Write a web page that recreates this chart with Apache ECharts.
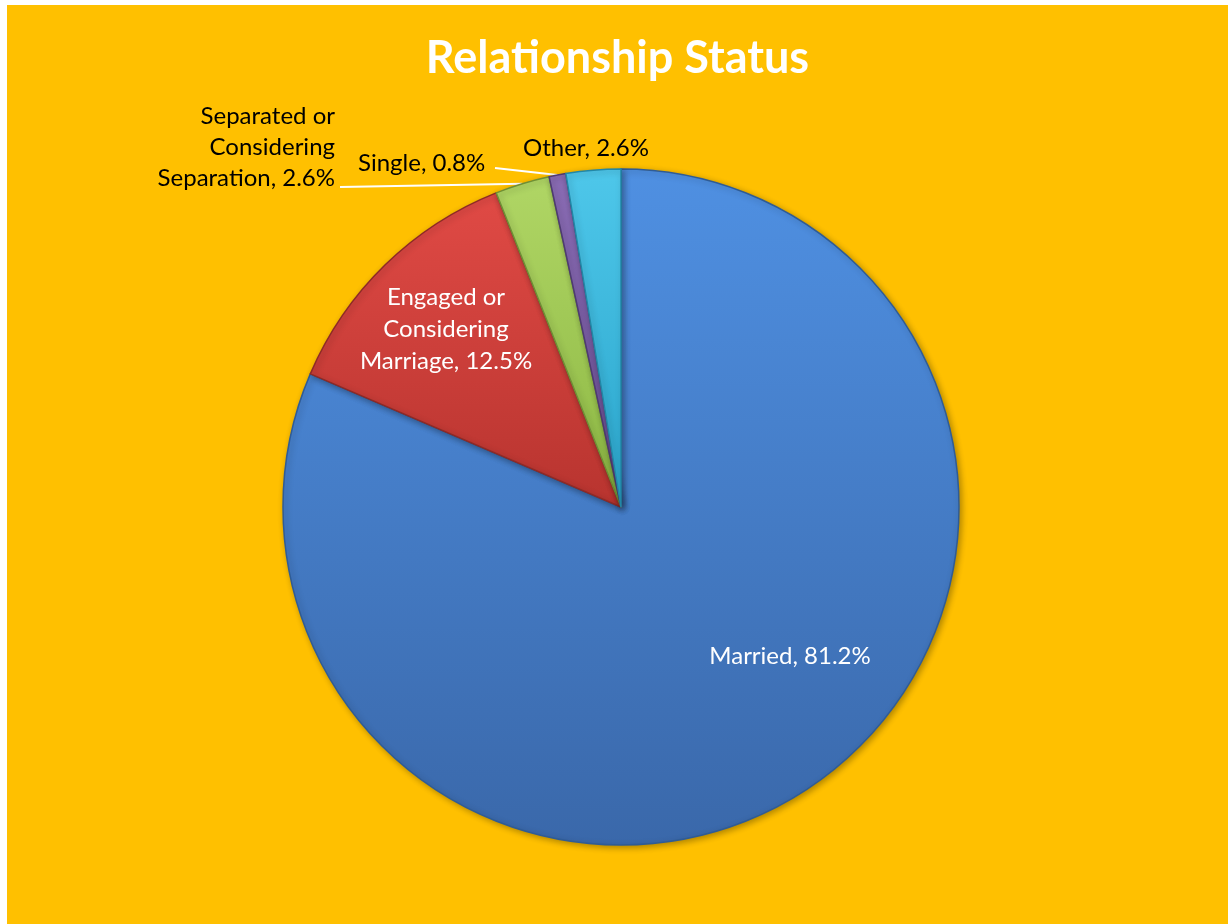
<!DOCTYPE html>
<html>
<head>
<meta charset="utf-8">
<title>Relationship Status</title>
<script src="https://cdn.jsdelivr.net/npm/echarts@6/dist/echarts.min.js"></script>
<style>
  html, body { margin: 0; padding: 0; background: #ffffff; }
  #main { position: absolute; left: 7px; top: 5px; width: 1221px; height: 919px; }
</style>
</head>
<body>
<div id="main"></div>
<script>
// data (clockwise from 12 o'clock)
const categories = ['Married', 'Engaged or\nConsidering\nMarriage', 'Separated or\nConsidering\nSeparation', 'Single', 'Other'];
const percents = [81.2, 12.5, 2.6, 0.8, 2.6];
const sliceColors = [
  ['#4f90e2', '#3a68aa'],
  ['#e04a45', '#b8342f'],
  ['#b0d665', '#8cb743'],
  ['#8a6cb4', '#6b4f96'],
  ['#4ec7ea', '#2aa5cb']
];
const edgeColors = ['#2f5c96', '#8e2a27', '#6f8f35', '#4f3a73', '#2287a6'];

// where each label sits (chart pixels), like the original layout
const labelSpots = [
  { x: 783, y: 651, align: 'center' },
  { x: 439, y: 324, align: 'center' },
  { x: 328, y: 142, align: 'right', lineEnd: [333, 182] },
  { x: 351, y: 158, align: 'left', lineEnd: [488, 163] },
  { x: 516, y: 143, align: 'left' }
];

const chart = echarts.init(document.getElementById('main'));

const insideIdx = [0, 1];
const seriesData = categories.map((name, i) => {
  const inside = insideIdx.indexOf(i) >= 0;
  return {
    name: name,
    value: percents[i],
    itemStyle: {
      color: new echarts.graphic.LinearGradient(0, 0, 0, 1, [
        { offset: 0, color: sliceColors[i][0] },
        { offset: 1, color: sliceColors[i][1] }
      ]),
      borderColor: edgeColors[i],
      borderWidth: 1.5
    },
    label: inside ? {
      position: 'inside',
      color: '#ffffff',
      lineHeight: 32
    } : {
      position: 'outside',
      color: '#000000'
    },
    labelLine: { show: !!labelSpots[i].lineEnd }
  };
});

const option = {
  backgroundColor: '#ffc000',
  title: {
    text: 'Relationship Status',
    left: 'center',
    top: 26,
    textStyle: {
      color: '#ffffff',
      fontFamily: 'Lato',
      fontWeight: 'bold',
      fontSize: 45
    }
  },
  series: [{
    type: 'pie',
    center: [614, 502],
    radius: 338,
    startAngle: 90,
    clockwise: true,
    data: seriesData,
    label: {
      formatter: function (p) {
        return p.name + ', ' + p.value.toFixed(1) + '%';
      },
      fontFamily: 'Lato',
      fontSize: 24,
      lineHeight: 31,
      align: 'center'
    },
    labelLine: {
      length: 12,
      length2: 20,
      lineStyle: { color: '#ffffff', width: 2 }
    },
    labelLayout: function (params) {
      const spot = labelSpots[params.dataIndex];
      const out = {
        x: spot.x,
        y: spot.y,
        align: spot.align,
        verticalAlign: 'middle'
      };
      const pts = params.labelLinePoints;
      if (spot.lineEnd && pts) {
        out.labelLinePoints = [pts[0], spot.lineEnd, spot.lineEnd];
      }
      return out;
    },
    itemStyle: {
      shadowColor: 'rgba(0,0,0,0.3)',
      shadowBlur: 6,
      shadowOffsetX: 2,
      shadowOffsetY: 2
    },
    emphasis: { disabled: true }
  }]
};

chart.setOption(option);
</script>
</body>
</html>
